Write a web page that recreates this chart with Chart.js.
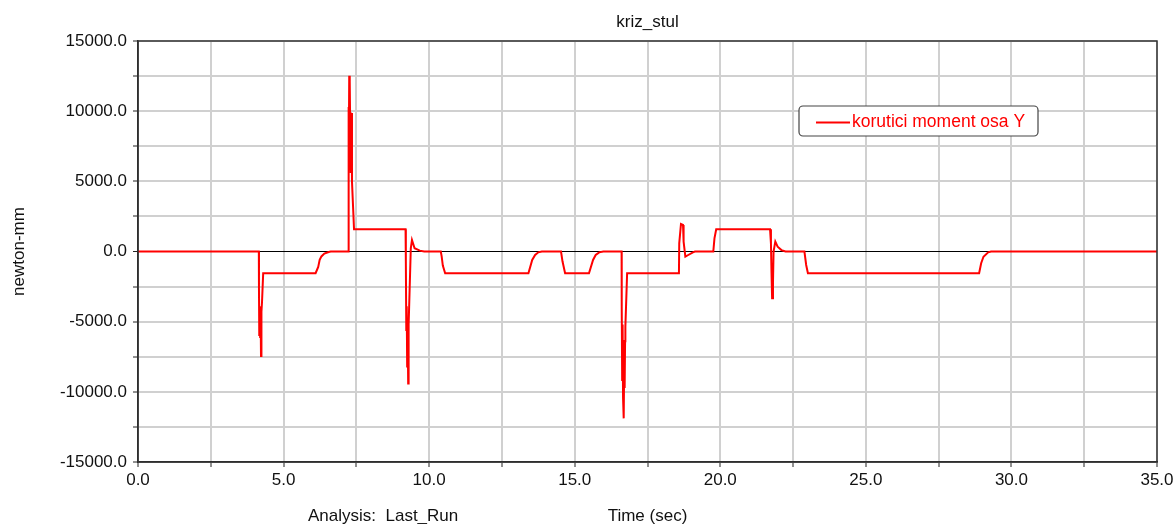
<!DOCTYPE html>
<html>
<head>
<meta charset="utf-8">
<script src="https://cdn.jsdelivr.net/npm/chart.js@4.4.1/dist/chart.umd.min.js"></script>
<style>
  html, body { margin: 0; padding: 0; background: #ffffff; }
  #wrap { width: 1174px; height: 524px; position: relative; }
</style>
</head>
<body>
<div id="wrap"><canvas id="c" width="1174" height="524"></canvas></div>
<script>
// Simulation output: torque about the Y axis over time
const chartTitle = 'kriz_stul';
const seriesLabel = 'korutici moment osa Y';
const xAxisTitle = 'Time (sec)';
const yAxisTitle = 'newton-mm';
const analysisLabel = 'Analysis:  Last_Run';

const timeSec = [0, 4.15, 4.155, 4.165, 4.18, 4.195, 4.21, 4.225, 4.24, 4.26, 4.30, 6.10, 6.19, 6.24, 6.30, 6.40, 6.55, 6.62,
  7.22, 7.225, 7.235, 7.245, 7.255, 7.265, 7.28, 7.29, 7.30, 7.315, 7.33, 7.35, 7.42,
  9.19, 9.20, 9.215, 9.23, 9.245, 9.26, 9.28, 9.295, 9.31, 9.37, 9.41, 9.50, 9.68, 9.83,
  10.40, 10.43, 10.47, 10.55, 13.41, 13.54, 13.64, 13.75, 13.87, 14.53, 14.58, 14.67, 15.49, 15.63,
  15.72, 15.84, 15.98, 16.61, 16.615, 16.63, 16.645, 16.66, 16.675, 16.69, 16.70, 16.715, 16.73, 16.74, 16.80,
  18.58, 18.59, 18.65, 18.72, 18.74, 18.80, 18.90, 19.06, 19.13, 19.76, 19.80, 19.86,
  21.71, 21.74, 21.76, 21.78, 21.81, 21.83, 21.89, 21.97, 22.10, 22.24, 22.89, 22.95, 23.01,
  28.89, 28.96, 29.04, 29.20, 29.30, 35];

const momentY = [0, 0, -2600, -5950, -3900, -6100, -4200, -7450, -4300, -3580, -1550, -1550, -1100, -600, -350, -150, -40, 0,
  0, 4860, 10300, 5200, 12530, 7800, 12100, 8600, 9900, 5600, 9870, 4970, 1580,
  1580, -730, -5600, -3900, -8200, -4800, -9400, -5200, -4170, 230, 820, 230, 60, 0,
  0, -350, -1000, -1550, -1550, -600, -250, -60, 0, 0, -700, -1550, -1550, -600,
  -250, -60, 0, 0, -4050, -9160, -5200, -10400, -6300, -11890, -7900, -9730, -6400, -5360, -1550,
  -1550, 580, 1960, 1890, 700, -370, -250, -60, 0, 0, 940, 1580,
  1580, 580, -1550, -3340, -2270, 0, 700, 340, 100, 0, 0, -960, -1550,
  -1550, -840, -370, -60, 0, 0];

const xRange = [0, 35];
const yRange = [-15000, 15000];
const xStep = 2.5;
const yStep = 2500;
const xLabelEvery = 5;
const yLabelEvery = 5000;

const FONT = '"Liberation Sans", Arial, sans-serif';
const LINE_RED = '#ff0000';

const points = timeSec.map((t, i) => ({ x: t, y: momentY[i] }));

// Frame, titles and the in-plot legend box
const decorations = {
  id: 'decorations',
  afterDraw(chart) {
    const { ctx, chartArea: a } = chart;
    ctx.save();
    // plot frame
    ctx.strokeStyle = '#333333';
    ctx.lineWidth = 1.5;
    ctx.strokeRect(a.left, a.top, a.right - a.left, a.bottom - a.top);

    ctx.fillStyle = '#111111';
    ctx.font = '17px ' + FONT;
    ctx.textAlign = 'center';
    ctx.textBaseline = 'alphabetic';
    const cx = (a.left + a.right) / 2;
    ctx.fillText(chartTitle, cx, 27);
    ctx.fillText(xAxisTitle, cx, 521);
    ctx.textAlign = 'left';
    ctx.fillText(analysisLabel, 308, 521);

    ctx.save();
    ctx.translate(24, (a.top + a.bottom) / 2);
    ctx.rotate(-Math.PI / 2);
    ctx.textAlign = 'center';
    ctx.fillText(yAxisTitle, 0, 0);
    ctx.restore();

    // legend
    const ds = chart.data.datasets[0];
    const bx = 799, by = 106, bw = 239, bh = 30, r = 4;
    ctx.beginPath();
    ctx.moveTo(bx + r, by);
    ctx.arcTo(bx + bw, by, bx + bw, by + bh, r);
    ctx.arcTo(bx + bw, by + bh, bx, by + bh, r);
    ctx.arcTo(bx, by + bh, bx, by, r);
    ctx.arcTo(bx, by, bx + bw, by, r);
    ctx.closePath();
    ctx.fillStyle = '#ffffff';
    ctx.fill();
    ctx.strokeStyle = '#444444';
    ctx.lineWidth = 1.2;
    ctx.stroke();
    ctx.strokeStyle = ds.borderColor;
    ctx.lineWidth = 2;
    ctx.beginPath();
    ctx.moveTo(816, 122.5);
    ctx.lineTo(850, 122.5);
    ctx.stroke();
    ctx.fillStyle = ds.borderColor;
    ctx.font = '17.5px ' + FONT;
    ctx.textAlign = 'left';
    ctx.textBaseline = 'middle';
    ctx.fillText(ds.label, 852, 122);
    ctx.restore();
  }
};

new Chart(document.getElementById('c'), {
  type: 'line',
  data: {
    datasets: [{
      label: seriesLabel,
      data: points,
      borderColor: LINE_RED,
      backgroundColor: LINE_RED,
      borderWidth: 2,
      pointRadius: 0,
      tension: 0,
      fill: false
    }]
  },
  options: {
    responsive: false,
    animation: false,
    layout: { padding: { top: 41, right: 17, left: 0, bottom: 0 } },
    plugins: { legend: { display: false }, title: { display: false }, tooltip: { enabled: false } },
    scales: {
      x: {
        type: 'linear',
        min: xRange[0], max: xRange[1],
        afterFit(scale) {
          scale.height = 62;
          scale.paddingLeft = 0;
          scale.paddingRight = 0;
        },
        afterBuildTicks(scale) {
          const t = [];
          for (let v = xRange[0]; v <= xRange[1] + 1e-9; v += xStep) t.push({ value: v });
          scale.ticks = t;
        },
        ticks: {
          autoSkip: false,
          maxRotation: 0,
          padding: 3,
          color: '#111111',
          font: { family: FONT, size: 17 },
          callback: (v) => (Math.abs(v % xLabelEvery) < 1e-9 ? v.toFixed(1) : '')
        },
        grid: { color: '#d0d0d0', lineWidth: 2, tickColor: '#222222', tickLength: 5, tickWidth: 1 },
        border: { display: true, color: '#222222', width: 1.5 }
      },
      y: {
        min: yRange[0], max: yRange[1],
        afterFit(scale) {
          scale.width = 138;
          scale.paddingTop = 0;
          scale.paddingBottom = 0;
        },
        afterBuildTicks(scale) {
          const t = [];
          for (let v = yRange[0]; v <= yRange[1]; v += yStep) t.push({ value: v });
          scale.ticks = t;
        },
        ticks: {
          autoSkip: false,
          padding: 6,
          color: '#111111',
          font: { family: FONT, size: 17 },
          callback: (v) => (v % yLabelEvery === 0 ? v.toFixed(1) : '')
        },
        grid: {
          color: (c) => (c.tick && c.tick.value === 0 ? '#000000' : '#d0d0d0'),
          lineWidth: (c) => (c.tick && c.tick.value === 0 ? 1 : 2),
          tickColor: '#222222', tickLength: 5, tickWidth: 1
        },
        border: { display: true, color: '#222222', width: 1.5 }
      }
    }
  },
  plugins: [decorations]
});
</script>
</body>
</html>
